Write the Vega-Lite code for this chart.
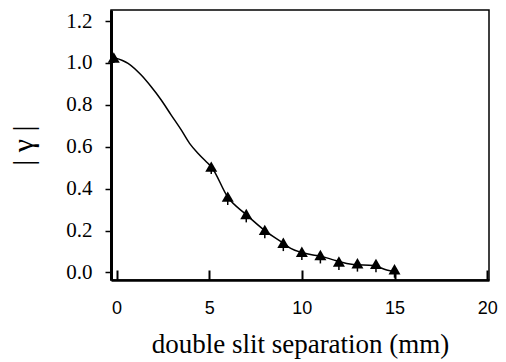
{
  "$schema": "https://vega.github.io/schema/vega-lite/v6.json",
  "autosize": {"type": "none"},
  "padding": {"left": 111, "top": 10, "right": 17, "bottom": 82},
  "width": 378,
  "height": 270,
  "background": "white",
  "config": {
    "view": {"stroke": "black", "strokeWidth": 1.5},
    "axis": {"grid": false, "domainColor": "black", "tickColor": "black", "labelColor": "black", "titleColor": "black", "titleFontWeight": "normal"}
  },
  "datasets": {
    "curve": [
      {"x": -0.1, "y": 1.025},
      {"x": 0.62, "y": 0.998},
      {"x": 1.33, "y": 0.942},
      {"x": 1.87, "y": 0.886},
      {"x": 2.41, "y": 0.823},
      {"x": 2.95, "y": 0.751},
      {"x": 3.49, "y": 0.68},
      {"x": 3.94, "y": 0.616},
      {"x": 4.39, "y": 0.569},
      {"x": 4.93, "y": 0.521},
      {"x": 5.11, "y": 0.505},
      {"x": 6.0, "y": 0.36},
      {"x": 7.0, "y": 0.276},
      {"x": 8.0, "y": 0.2},
      {"x": 9.0, "y": 0.14},
      {"x": 9.4, "y": 0.115},
      {"x": 10.0, "y": 0.095},
      {"x": 10.6, "y": 0.083},
      {"x": 11.0, "y": 0.078},
      {"x": 11.7, "y": 0.06},
      {"x": 12.0, "y": 0.052},
      {"x": 12.77, "y": 0.038},
      {"x": 13.85, "y": 0.033},
      {"x": 14.58, "y": 0.012},
      {"x": 15.0, "y": 0.004}
    ],
    "pts": [
      {"x": -0.15, "y": 1.026, "lo": 1.0},
      {"x": 5.11, "y": 0.505, "lo": 0.47},
      {"x": 6.0, "y": 0.362, "lo": 0.322},
      {"x": 7.0, "y": 0.279, "lo": 0.239},
      {"x": 8.0, "y": 0.203, "lo": 0.163},
      {"x": 9.0, "y": 0.142, "lo": 0.102},
      {"x": 10.0, "y": 0.099, "lo": 0.059},
      {"x": 11.0, "y": 0.083, "lo": 0.043},
      {"x": 12.0, "y": 0.052, "lo": 0.012},
      {"x": 13.0, "y": 0.044, "lo": 0.004},
      {"x": 14.0, "y": 0.041, "lo": 0.001},
      {"x": 15.0, "y": 0.015, "lo": -0.025}
    ]
  },
  "layer": [
    {
      "data": {"name": "curve"},
      "mark": {"type": "line", "interpolate": "monotone", "color": "black", "strokeWidth": 1.5},
      "encoding": {
        "x": {
          "field": "x", "type": "quantitative",
          "scale": {"domain": [-0.3, 20.1], "nice": false, "zero": false},
          "axis": {
            "values": [0, 5, 10, 15, 20],
            "title": "double slit separation (mm)",
            "titleFont": "Liberation Serif", "titleFontSize": 27, "titlePadding": 14,
            "labelFont": "Liberation Sans", "labelFontSize": 18, "labelPadding": 29,
            "tickSize": -10, "tickWidth": 2,
            "domainWidth": 2.5
          }
        },
        "y": {
          "field": "y", "type": "quantitative",
          "scale": {"domain": [-0.036, 1.2525], "nice": false, "zero": false},
          "axis": {
            "values": [0, 0.1, 0.2, 0.3, 0.4, 0.5, 0.6, 0.7, 0.8, 0.9, 1.0, 1.1, 1.2],
            "format": ".1f",
            "labelExpr": "round(datum.value*10) % 2 == 0 ? datum.label : ''",
            "title": "| γ |",
            "titleFont": "Liberation Serif", "titleFontSize": 30, "titlePadding": 27,
            "labelFont": "Liberation Serif", "labelFontSize": 21, "labelPadding": 13,
            "tickSize": 6, "tickWidth": 1.5,
            "domainWidth": 3
          }
        }
      }
    },
    {
      "data": {"name": "pts"},
      "mark": {"type": "rule", "color": "black", "strokeWidth": 1.5},
      "encoding": {
        "x": {"field": "x", "type": "quantitative"},
        "y": {"field": "lo", "type": "quantitative"},
        "y2": {"field": "y"}
      }
    },
    {
      "data": {"name": "pts"},
      "mark": {"type": "point", "shape": "triangle-up", "filled": true, "color": "black", "opacity": 1, "size": 144},
      "encoding": {
        "x": {"field": "x", "type": "quantitative"},
        "y": {"field": "y", "type": "quantitative"}
      }
    }
  ]
}
